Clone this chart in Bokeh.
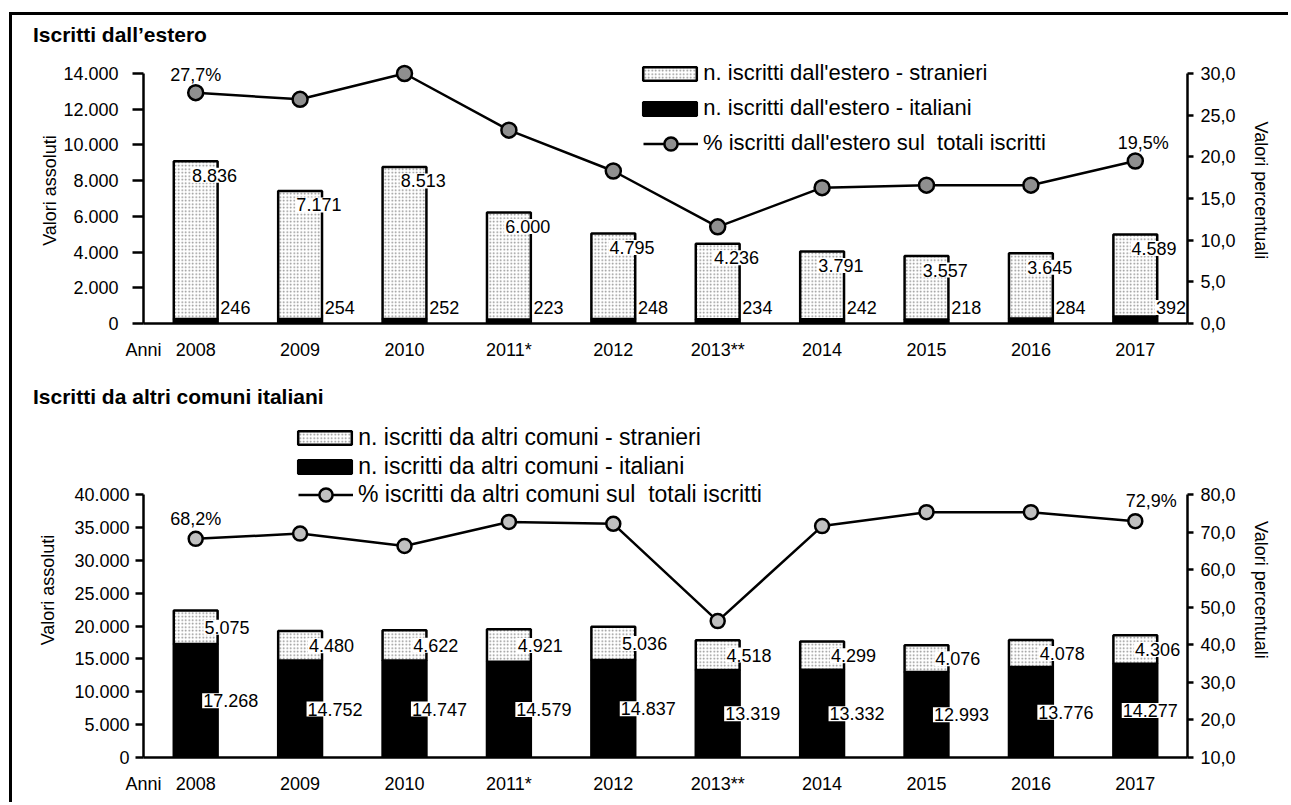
from bokeh.plotting import figure
from bokeh.models import Range1d, LinearAxis, FixedTicker, Legend, LegendItem, Label, Div
from bokeh.layouts import column
from bokeh.embed import file_html
from bokeh.resources import INLINE
from bokeh.core.properties import value

FONT = "Liberation Sans"

# ---------------- data ----------------
years = ["2008", "2009", "2010", "2011*", "2012", "2013**", "2014", "2015", "2016", "2017"]
x_first_label = "Anni"

est_title = "Iscritti dall\u2019estero"
est_stranieri = [8836, 7171, 8513, 6000, 4795, 4236, 3791, 3557, 3645, 4589]
est_italiani = [246, 254, 252, 223, 248, 234, 242, 218, 284, 392]
est_pct = [27.7, 26.9, 30.0, 23.2, 18.3, 11.6, 16.3, 16.6, 16.6, 19.5]
est_legend = ["n. iscritti dall'estero - stranieri",
              "n. iscritti dall'estero - italiani",
              "% iscritti dall'estero sul  totali iscritti"]
est_left_ticks = [0, 2000, 4000, 6000, 8000, 10000, 12000, 14000]
est_left_labels = ["0", "2.000", "4.000", "6.000", "8.000", "10.000", "12.000", "14.000"]
est_right_ticks = [0, 5, 10, 15, 20, 25, 30]
est_right_labels = ["0,0", "5,0", "10,0", "15,0", "20,0", "25,0", "30,0"]

com_title = "Iscritti da altri comuni italiani"
com_stranieri = [5075, 4480, 4622, 4921, 5036, 4518, 4299, 4076, 4078, 4306]
com_italiani = [17268, 14752, 14747, 14579, 14837, 13319, 13332, 12993, 13776, 14277]
com_pct = [68.2, 69.6, 66.3, 72.7, 72.2, 46.3, 71.6, 75.3, 75.3, 72.9]
com_legend = ["n. iscritti da altri comuni - stranieri",
              "n. iscritti da altri comuni - italiani",
              "% iscritti da altri comuni sul  totali iscritti"]
com_left_ticks = [0, 5000, 10000, 15000, 20000, 25000, 30000, 35000, 40000]
com_left_labels = ["0", "5.000", "10.000", "15.000", "20.000", "25.000", "30.000", "35.000", "40.000"]
com_right_ticks = [10, 20, 30, 40, 50, 60, 70, 80]
com_right_labels = ["10,0", "20,0", "30,0", "40,0", "50,0", "60,0", "70,0", "80,0"]

y_title_left = "Valori assoluti"
y_title_right = "Valori percentuali"

FIG_W = 1276


def fmt_int(v):
    return f"{v:,}".replace(",", ".")


def fmt_pct(v):
    return f"{v:.1f}".replace(".", ",") + "%"


def style_axis(ax, ticks, labels, tick_out, standoff):
    ax.ticker = FixedTicker(ticks=ticks)
    ax.major_label_overrides = {t: l for t, l in zip(ticks, labels)}
    ax.axis_line_color = "black"
    ax.axis_line_width = 2.5
    ax.major_tick_line_color = "black"
    ax.major_tick_line_width = 2.5
    ax.major_tick_in = 0
    ax.major_tick_out = tick_out
    ax.minor_tick_line_color = None
    ax.major_label_standoff = standoff
    ax.major_label_text_font = FONT
    ax.major_label_text_font_size = "18px"
    ax.major_label_text_color = "black"
    ax.axis_label_text_font = FONT
    ax.axis_label_text_font_size = "18px"
    ax.axis_label_text_font_style = "normal"
    ax.axis_label_text_color = "black"


def extend(lo, hi, frame_h, axis_h):
    # the frame is taller than the drawn axis: legend and labels live above it
    return lo + (hi - lo) * frame_h / axis_h


def make_panel(cfg):
    n = len(years)
    xs = [i + 0.5 for i in range(n)]
    st, it, pc = cfg["stranieri"], cfg["italiani"], cfg["pct"]
    tops = [a + b for a, b in zip(it, st)]
    mb_l, mb_r, mb_t, mb_b = cfg["mb"]
    frame_h = cfg["height"] - mb_t - mb_b
    axis_h = cfg["axis_h"]
    lt, rt = cfg["left_ticks"], cfg["right_ticks"]

    p = figure(width=FIG_W, height=cfg["height"],
               x_range=Range1d(0, n),
               y_range=Range1d(lt[0], extend(lt[0], lt[-1], frame_h, axis_h)),
               output_backend="svg", toolbar_location=None,
               min_border_left=mb_l, min_border_right=mb_r,
               min_border_top=mb_t, min_border_bottom=mb_b)
    p.extra_y_ranges = {"pct": Range1d(rt[0], extend(rt[0], rt[-1], frame_h, axis_h))}
    p.grid.visible = False
    p.outline_line_color = None
    p.background_fill_color = "white"
    p.border_fill_color = "white"

    # x axis
    xa = p.xaxis[0]
    style_axis(xa, [0] + xs, [x_first_label] + years, 0, 16)
    xa.major_tick_line_color = None

    # left axis
    ya = p.yaxis[0]
    style_axis(ya, lt, cfg["left_labels"], cfg["tick_out"], cfg["left_standoff"])
    ya.bounds = (lt[0], lt[-1])
    ya.axis_label = y_title_left
    ya.axis_label_standoff = cfg["left_label_standoff"]

    # right axis
    ra = LinearAxis(y_range_name="pct")
    style_axis(ra, rt, cfg["right_labels"], 6, 7)
    ra.bounds = (rt[0], rt[-1])
    ra.axis_label = y_title_right
    ra.axis_label_standoff = 12
    p.add_layout(ra, "right")

    # bars
    r_it = p.vbar(x=xs, width=0.42, bottom=0, top=it, fill_color="black",
                  line_color="black", line_width=2.5)
    r_st = p.vbar(x=xs, width=0.42, bottom=it, top=tops, fill_color="white",
                  hatch_pattern="dot", hatch_color="#8a8a8a", hatch_scale=3.5,
                  hatch_weight=1, line_color="black", line_width=2.5)

    # bar value labels
    lab_kw = dict(text_font=value(FONT), text_font_size="18px", text_color="black",
                  text_align="center", text_baseline="middle",
                  background_fill_color="white", padding=1)
    sx, sy_mode, soff, s_last = cfg["st_lab"]
    ix, iy_mode, ioff, i_last = cfg["it_lab"]
    st_y = tops if sy_mode == "top" else [a + b / 2 for a, b in zip(it, st)]
    it_y = [0] * n if iy_mode == "base" else [a / 2 for a in it]
    p.text(x=[x + sx for x in xs], y=st_y, text=[fmt_int(v) for v in st],
           x_offset=[0] * (n - 1) + [s_last], y_offset=soff, **lab_kw)
    p.text(x=[x + ix for x in xs], y=it_y, text=[fmt_int(v) for v in it],
           x_offset=[0] * (n - 1) + [i_last], y_offset=ioff, **lab_kw)

    # percentage line
    r_ln = p.line(xs, pc, y_range_name="pct", line_color="black", line_width=2.5)
    r_pt = p.scatter(xs, pc, y_range_name="pct", marker="circle", size=cfg["msize"],
                     fill_color=cfg["mfill"], line_color="black", line_width=2.5)

    for idx, dx in ((0, 0), (n - 1, cfg["last_dx"])):
        p.add_layout(Label(x=xs[idx], y=pc[idx], y_range_name="pct", text=fmt_pct(pc[idx]),
                           x_offset=dx, y_offset=cfg["pt_dy"], text_align="center",
                           text_baseline="middle", text_font=FONT,
                           text_font_size="18px", text_color="black"))

    # legends
    leg_common = dict(padding=0, margin=0, border_line_color=None,
                      background_fill_alpha=0, label_text_font=FONT,
                      label_text_font_size=cfg["leg_font"], label_text_color="black",
                      label_height=27)
    leg_bar = Legend(items=[LegendItem(label=cfg["legend"][0], renderers=[r_st]),
                            LegendItem(label=cfg["legend"][1], renderers=[r_it])],
                     location=cfg["leg_bar_loc"], glyph_width=67, glyph_height=17,
                     spacing=cfg["leg_spacing"], label_standoff=0, **leg_common)
    leg_line = Legend(items=[LegendItem(label=cfg["legend"][2], renderers=[r_ln, r_pt])],
                      location=cfg["leg_line_loc"], glyph_width=55, glyph_height=33,
                      label_standoff=5, **leg_common)
    p.add_layout(leg_bar)
    p.add_layout(leg_line)
    return p


def title_div(text, height):
    return Div(text=f'<div style="font-family: \'{FONT}\'; font-size: 21px; font-weight: bold; '
                    f'line-height: {height}px; padding-left: 21px; color: black; '
                    f'white-space: nowrap;">{text}</div>',
               width=900, height=height, margin=0)


p1 = make_panel(dict(
    stranieri=est_stranieri, italiani=est_italiani, pct=est_pct,
    legend=est_legend, left_ticks=est_left_ticks, left_labels=est_left_labels,
    right_ticks=est_right_ticks, right_labels=est_right_labels,
    height=317, mb=(121, 101, 2, 49), axis_h=250,
    tick_out=11, left_standoff=14, left_label_standoff=0,
    st_lab=(0.18, "top", 14, 0), it_lab=(0.38, "base", -16, -4),
    msize=15, mfill="#8f8f8f", last_dx=8, pt_dy=18,
    leg_font="22px", leg_spacing=8,
    leg_bar_loc=(493.3, 201.5), leg_line_loc=(500, 163.5)))

p2 = make_panel(dict(
    stranieri=com_stranieri, italiani=com_italiani, pct=com_pct,
    legend=com_legend, left_ticks=com_left_ticks, left_labels=com_left_labels,
    right_ticks=com_right_ticks, right_labels=com_right_labels,
    height=380, mb=(131, 101, 0, 45), axis_h=263,
    tick_out=8, left_standoff=6, left_label_standoff=13,
    st_lab=(0.30, "mid", 0, -9), it_lab=(0.335, "mid", 0, -20),
    msize=14, mfill="#c0c0c0", last_dx=16, pt_dy=20,
    leg_font="23px", leg_spacing=2,
    leg_bar_loc=(148.3, 277.5), leg_line_loc=(155, 246.5)))

layout = column(title_div(est_title, 40), p1, title_div(com_title, 50), p2,
                margin=(12, 0, 0, 9),
                styles={"border-left": "3px solid black", "border-top": "3px solid black"})

open("out.html", "w").write(file_html(layout, INLINE))
